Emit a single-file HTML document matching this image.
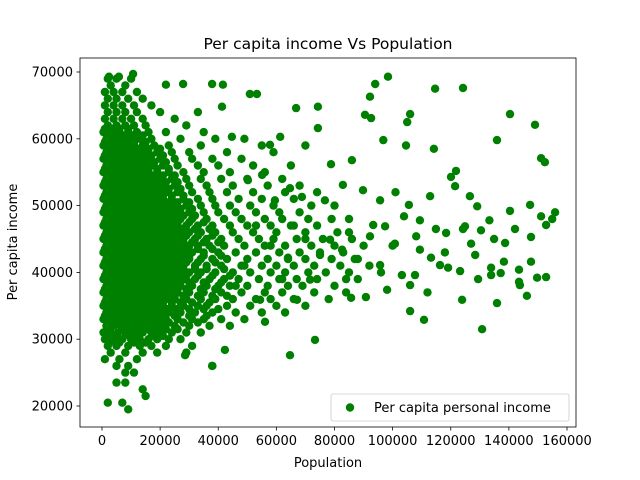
<!DOCTYPE html>
<html>
<head>
<meta charset="utf-8">
<style>
  html,body{margin:0;padding:0;background:#fff;}
  svg{display:block;font-family:"DejaVu Sans","Liberation Sans",sans-serif;}
</style>
</head>
<body>
<svg id="chart" width="640" height="480" viewBox="0 0 640 480">
  <rect x="0" y="0" width="640" height="480" fill="#fff"/>
  <text x="328" y="49" font-size="15.5" text-anchor="middle" fill="#000">Per capita income Vs Population</text>
  <g id="marks"></g>
  <rect x="80" y="58" width="496" height="369" fill="none" stroke="#000" stroke-width="0.8"/>
  <g id="xticks"></g>
  <g id="yticks"></g>
  <text x="328" y="467" font-size="13" text-anchor="middle">Population</text>
  <text transform="translate(17,242) rotate(-90)" font-size="13" text-anchor="middle">Per capita income</text>
  <g>
    <rect x="331" y="394" width="238" height="27" rx="2" fill="#fff" fill-opacity="0.8" stroke="#ccc" stroke-width="0.8"/>
    <circle cx="350" cy="407.5" r="4.2" fill="#008000"/>
    <text x="374" y="412" font-size="13">Per capita personal income</text>
  </g>
</svg>
<script>
// values in thousands
const xTickValues = [0, 20, 40, 60, 80, 100, 120, 140, 160];
const yTickValues = [20, 30, 40, 50, 60, 70];
const incomeRows = [19.5,20.5,21.5,22.5,23.5,25,26,27,28,29,30,31,32,33,34,35,36,37,38,39,40,41,42,43,44,45,46,47,48,49,50,51,52,53,54,55,56,57,58,59,60,61,62,63,64,65,66,67,68,69];
const populationRows = [
 [9],[2,7],[15],[14],[5,8],[8,11],[5,9,38],
 [1,6,12],
 [3,8,14,19,29],
 [2,5,9,13,17,22,31],
 [1,4,7,10,13,16,19,23,27],
 [0.5,3,5.5,8,11,14,17,20,24,29,34],
 [1.5,4,6.5,9,12,15,18,21,25,30,37,44],
 [0.5,3,5.5,8,10.5,13,16,19,22,26,31,35,41,49],
 [1.5,4,6.5,9,11.5,14,17,20,23,27,32,38,46,55,63],
 [0.5,3,5.5,8,10.5,13,15.5,18,21,24,28,33,36,43,51,60,70],
 [1.5,4,6.5,9,11.5,14,16.5,19,22,25,29,34,39,45,53,58,66,78],
 [0.5,3,5.5,8,10.5,13,15.5,18,20.5,23,26,30,35,41,48,56,62,73,84],
 [1.5,4,6.5,9,11.5,14,16.5,19,21.5,24,27,31,36,40,44,50,57,64,69,80],
 [0.5,3,5.5,8,10.5,13,15.5,18,20.5,23,25.5,28,32,37,42,47,54,61,67,74,88],
 [1.5,4,6.5,9,11.5,14,16.5,19,21.5,24,27,30,34,39,45,51,58,63,71,77,85],
 [0.5,3,5.5,8,10.5,13,15.5,18,20.5,23,25.5,28,32,36,41,48,55,60,66,73,82,92],
 [1.5,4,6.5,9,11.5,14,16.5,19,21.5,24,27,30,34,38,43,50,57,64,70,79,87],
 [0.5,3,5.5,8,10.5,13,15.5,18,20.5,23,25.5,28,31,35,40,46,53,61,68,75,83],
 [1.5,4,6.5,9,11.5,14,16.5,19,21.5,24,27,30,33,37,42,49,56,63,72,80,90],
 [0.5,3,5.5,8,10.5,13,15.5,18,20.5,23,25.5,28,32,36,41,47,54,59,67,76,86],
 [1.5,4,6.5,9,11.5,14,16.5,19,21.5,24,27,30,34,39,45,52,60,70,81],
 [0.5,3,5.5,8,10.5,13,15.5,18,20.5,23,26,29,33,38,44,50,58,65,74],
 [1.5,4,6.5,9,11.5,14,16.5,19,21.5,24,27,31,36,42,48,56,62,71,85],
 [0.5,3,5.5,8,10.5,13,15.5,18,20.5,23,26,30,35,40,46,53,61,68],
 [1.5,4,6.5,9,11.5,14,16.5,19,21.5,25,29,34,39,44,51,59,72,80],
 [0.5,3,5.5,8,10.5,13,15.5,18,21,24,28,33,38,47,55,66],
 [1.5,4,6.5,9,11.5,14,16.5,19,22,26,31,37,43,52,63,74],
 [0.5,3,5.5,8,10.5,13,15.5,18,21,25,30,36,45,57,68],
 [1.5,4,6.5,9,11.5,14,17,20,24,29,34,41,50,62],
 [0.5,3,5.5,8,10.5,13,16,19,23,28,35,44,56],
 [1.5,4,6.5,9,11.5,14,17,21,26,33,40,52,65],
 [0.5,3,5.5,8,10.5,13,16,20,25,31,38,48],
 [1.5,4,6.5,9,12,15,19,24,30,43,59],
 [0.5,3,5.5,8,11,14,18,23,34,55,70],
 [1.5,4,6.5,9.5,13,17,27,39,49],
 [0.5,3,6,9,12,16,22,35],
 [2,5,8,11,15,29],
 [1,4,7,10,14,25],
 [2,5,8,12,20,33],
 [1,4,7,11,17],
 [2,5,9,14],
 [1,4,7,12],
 [3,8],
 [2,5,10]
];
// in-between rows filling the dense core
const fillIncome = [29.5,30.5,31.5,32.5,33.5,34.5,35.5,36.5,37.5,38.5,39.5,40.5,41.5,42.5,43.5,44.5,45.5,46.5,47.5,48.5,49.5,50.5,51.5,52.5,53.5,54.5,55.5,56.5,57.5,58.5,59.5,60.5,61.5];
const fillPopulation = [
 [2.5,6,11,15],
 [1.5,5,9.5,12,18,21],
 [2.5,7,10,13,16,19,22,26],
 [2,4.5,7,9.5,12,14.5,17.5,20,23,28,33],
 [1,3.5,6,8.5,11,13.5,16,18.5,21.5,25,30,36],
 [2.5,5,7.5,10,12.5,15,17.5,20,22.5,25.5,30,35,40],
 [1,3.5,6,8.5,11,13.5,16,18.5,21,24,27,31,37],
 [2.5,5,7.5,10,12.5,15,17.5,20,22.5,25,28,33,38,43],
 [1,3.5,6,8.5,11,13.5,16,18.5,21,23.5,26,29,34,39],
 [2.5,5,7.5,10,12.5,15,17.5,20,22,24.5,27,30,35,41],
 [1,3.5,6,8.5,11,13.5,16,18.5,21,23.5,26,29,33,38,44],
 [2.5,5,7.5,10,12.5,15,17.5,20,22.5,25,28,32,36,42],
 [1,3.5,6,8.5,11,13.5,16,18.5,21,23.5,26,29,33,39],
 [2.5,5,7.5,10,12.5,15,17.5,20,22.5,25,27.5,30,35,41],
 [1,3.5,6,8.5,11,13.5,16,18.5,21,23.5,26,29,33,38],
 [2.5,5,7.5,10,12.5,15,17.5,20,22.5,25,28,31,35,40],
 [1,3.5,6,8.5,11,13.5,16,18.5,21,23.5,26,29,33,38],
 [2.5,5,7.5,10,12.5,15,17.5,20,22.5,25,28,32,37],
 [1,3.5,6,8.5,11,13.5,16,18.5,21,23.5,26,30,35],
 [2.5,5,7.5,10,12.5,15,17.5,20,22.5,25,28,32],
 [1,3.5,6,8.5,11,13.5,16,18.5,21,24,27,31],
 [2.5,5,7.5,10,12.5,15,17.5,20,23,26,30],
 [1,3.5,6,8.5,11,13.5,16,18.5,21,24,28],
 [2.5,5,7.5,10,12.5,15,17.5,20,23,27],
 [1,3.5,6,8.5,11,13.5,16,19,22,26],
 [2.5,5,7.5,10,12.5,15,18,21,25],
 [1,3.5,6,8.5,11,13.5,16,19,23],
 [2.5,5,7.5,10,12.5,15,18,22],
 [1,3.5,6,8.5,11,14,17,21],
 [2.5,5,7.5,10,13,16,20],
 [1,3.5,6,8.5,11,15],
 [2.5,5,7.5,10.5,14],
 [1,3.5,6,9]
];
const extraPoints = [
 [124.2,67.6],[114.6,67.5],[98.4,69.3],[94,68.2],[92.2,66.3],[106,63.7],[140.4,63.7],[149,62.1],[135.9,59.8],[105,62.5],
 [104.6,59],[114.2,58.5],[90.5,63.6],[92.6,63.1],[96.8,59.8],[74.3,61.6],[74.3,64.8],[66.8,64.6],[61.3,60.3],[53.3,66.7],
 [50.9,66.7],[44.7,60.3],[37.9,68.2],[41.6,68.1],[41.3,64.8],[27.9,68.2],[22,68.1],[2.4,69.3],[5.8,69.3],[10.7,69.7],
 [130.8,31.5],[110.8,32.9],[106,34.2],[135.9,35.4],[123.9,35.9],[146.2,36.5],[143.5,38.6],[149.7,39.2],[152.8,39.3],[155.9,49],
 [154.9,48],[151.1,48.4],[151.1,57.1],[152.4,56.5],[147.3,50.1],[140.4,49.2],[142.1,46.5],[138.7,44.4],[134.9,45],[127,44.3],
 [129.1,49.9],[133.3,47.8],[130.4,46.3],[138.3,41.6],[137.2,39.9],[133.9,40.7],[133.9,39.6],[129.4,39],[123.2,40.2],[119.1,40.7],
 [118.4,45.9],[120.1,54.3],[121.5,52.9],[126.6,51.4],[109.4,47.8],[114.9,46.5],[108.1,45.4],[103.9,48.4],[105.6,50.1],[112.9,51.4],
 [97.4,46.9],[92.2,45.4],[100.8,44.3],[95.7,41.1],[103.2,39.6],[98.1,37.4],[90.8,36.3],[85.7,36.2],[106,38.1],[116.3,41.1],
 [113.2,42.2],[107.7,39.6],[89.8,52.3],[82.9,53.1],[95.7,50.8],[86,56.8],[78.8,56.2],[76.7,50.8],[68.8,51.3],[64.7,52.6],
 [82.6,43.4],[75,42.6],[78.5,44.9],[71.6,38.9],[73.3,29.9],[64.7,27.6],[67.1,35.9],[64,42.2],[54.4,35.9],[56.1,32.6],
 [55.1,54.6],[57.8,59.1],[59.5,50.8],[50.2,53.8],[42.3,28.4],[37.9,26],[28.6,27.6],[124.9,46.9],[128.4,42.6],[147.6,45.3],
 [152.8,47.1],[147.6,41.6],[143.5,40.4],[143.8,38.1],[121.8,55.2],[124.2,46.5],[93.3,47.1],[109.4,43.4],[100,44],[96,40],
 [88,42],[85,46],[101,52],[118,43],[112,37],[84,39],[79,48],[70,45],[66,47],[62,39],[58,44],[53,47],[49,41],[46,38]
];
const SVGNS = "http://www.w3.org/2000/svg";
function xScale(v){ return 102 + v * (465/160); }
function yScale(v){ return 406 - (v - 20) * (334/50); }
const marks = document.getElementById('marks');
function addPoint(px, inc){
  const c = document.createElementNS(SVGNS, 'circle');
  c.setAttribute('cx', xScale(px).toFixed(1));
  c.setAttribute('cy', yScale(inc).toFixed(1));
  c.setAttribute('r', '4.2');
  c.setAttribute('fill', '#008000');
  
  
  marks.appendChild(c);
}
incomeRows.forEach((inc, i) => { (populationRows[i] || []).forEach(p => addPoint(p, inc)); });
fillIncome.forEach((inc, i) => { (fillPopulation[i] || []).forEach(p => addPoint(p, inc)); });
extraPoints.forEach(pt => addPoint(pt[0], pt[1]));

const xg = document.getElementById('xticks');
xTickValues.forEach(v => {
  const x = xScale(v);
  const l = document.createElementNS(SVGNS, 'line');
  l.setAttribute('x1', x); l.setAttribute('x2', x); l.setAttribute('y1', 427); l.setAttribute('y2', 430.5);
  l.setAttribute('stroke', '#000'); l.setAttribute('stroke-width', '0.8');
  
  
  xg.appendChild(l);
  const t = document.createElementNS(SVGNS, 'text');
  t.setAttribute('x', x); t.setAttribute('y', 445); t.setAttribute('font-size', '13');
  t.setAttribute('text-anchor', 'middle');
  t.textContent = String(v * 1000);
  
  
  xg.appendChild(t);
});
const yg = document.getElementById('yticks');
yTickValues.forEach(v => {
  const y = yScale(v);
  const l = document.createElementNS(SVGNS, 'line');
  l.setAttribute('x1', 76.5); l.setAttribute('x2', 80); l.setAttribute('y1', y); l.setAttribute('y2', y);
  l.setAttribute('stroke', '#000'); l.setAttribute('stroke-width', '0.8');
  
  
  yg.appendChild(l);
  const t = document.createElementNS(SVGNS, 'text');
  t.setAttribute('x', 73); t.setAttribute('y', y + 4.5); t.setAttribute('font-size', '13');
  t.setAttribute('text-anchor', 'end');
  t.textContent = String(v * 1000);
  
  
  yg.appendChild(t);
});
</script>
</body>
</html>
